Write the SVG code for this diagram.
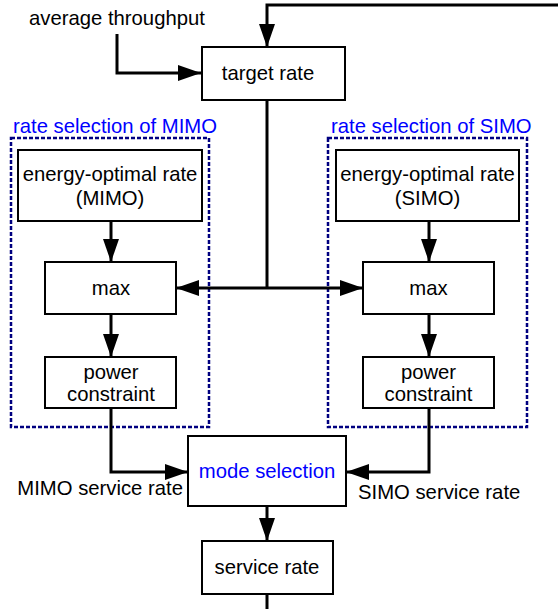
<svg xmlns="http://www.w3.org/2000/svg" width="558" height="609" viewBox="0 0 558 609">
  <style>
    .box { fill: #ffffff; stroke: #000000; stroke-width: 2; }
    .group { fill: none; stroke: #000080; stroke-width: 2.5; stroke-dasharray: 4 2; }
    .wire { fill: none; stroke: #000000; stroke-width: 3; }
    text { font-family: "Liberation Sans", Arial, sans-serif; font-size: 20.3px; fill: #000000; }
    .c { text-anchor: middle; }
    .blue { fill: #0000ff; }
  </style>
  <defs>
    <marker id="arrow" markerUnits="userSpaceOnUse" markerWidth="23" markerHeight="16" refX="23" refY="8" orient="auto" viewBox="0 0 23 16">
      <path d="M0,0 L23,8 L0,16 z" fill="#000000"/>
    </marker>
  </defs>

  <rect width="558" height="609" fill="#ffffff"/>

  <!-- dashed grouping frames -->
  <g id="group-mimo">
    <rect class="group" x="11" y="138" width="198" height="289"/>
    <text class="blue" x="13" y="133">rate selection of MIMO</text>
  </g>
  <g id="group-simo">
    <rect class="group" x="328" y="138" width="199" height="289"/>
    <text class="blue" x="331" y="133">rate selection of SIMO</text>
  </g>

  <!-- connectors -->
  <g id="connectors">
    <path class="wire" d="M558,5 H267 V47" marker-end="url(#arrow)"/>
    <path class="wire" d="M117,34 V73 H201" marker-end="url(#arrow)"/>
    <path class="wire" d="M267,100 V288"/>
    <path class="wire" d="M267,288 H176" marker-end="url(#arrow)"/>
    <path class="wire" d="M267,288 H363" marker-end="url(#arrow)"/>
    <path class="wire" d="M111,221 V262" marker-end="url(#arrow)"/>
    <path class="wire" d="M111,314 V357" marker-end="url(#arrow)"/>
    <path class="wire" d="M111,408 V472 H188" marker-end="url(#arrow)"/>
    <path class="wire" d="M429,221 V262" marker-end="url(#arrow)"/>
    <path class="wire" d="M429,314 V357" marker-end="url(#arrow)"/>
    <path class="wire" d="M429,408 V472 H346" marker-end="url(#arrow)"/>
    <path class="wire" d="M267,506 V541" marker-end="url(#arrow)"/>
    <path class="wire" d="M267,594 V609"/>
  </g>

  <!-- labels on connectors -->
  <text x="29" y="25">average throughput</text>
  <text x="183" y="495" text-anchor="end">MIMO service rate</text>
  <text x="358" y="499">SIMO service rate</text>

  <!-- nodes -->
  <g id="target-rate">
    <rect class="box" x="202" y="47" width="143" height="53"/>
    <text class="c" x="268" y="80">target rate</text>
  </g>
  <g id="energy-mimo">
    <rect class="box" x="18" y="150" width="184" height="71"/>
    <text class="c" x="110" y="181">energy-optimal rate</text>
    <text class="c" x="110" y="205">(MIMO)</text>
  </g>
  <g id="max-mimo">
    <rect class="box" x="45" y="262" width="131" height="52"/>
    <text class="c" x="111" y="295">max</text>
  </g>
  <g id="power-mimo">
    <rect class="box" x="45" y="357" width="131" height="51"/>
    <text class="c" x="111" y="379">power</text>
    <text class="c" x="111" y="401">constraint</text>
  </g>
  <g id="energy-simo">
    <rect class="box" x="336" y="150" width="183" height="71"/>
    <text class="c" x="427.5" y="181">energy-optimal rate</text>
    <text class="c" x="427.5" y="205">(SIMO)</text>
  </g>
  <g id="max-simo">
    <rect class="box" x="363" y="262" width="131" height="52"/>
    <text class="c" x="428.5" y="295">max</text>
  </g>
  <g id="power-simo">
    <rect class="box" x="363" y="357" width="131" height="51"/>
    <text class="c" x="428.5" y="379">power</text>
    <text class="c" x="428.5" y="401">constraint</text>
  </g>
  <g id="mode-selection">
    <rect class="box" x="188" y="436" width="158" height="70"/>
    <text class="c blue" x="267" y="478">mode selection</text>
  </g>
  <g id="service-rate">
    <rect class="box" x="202" y="541" width="131" height="53"/>
    <text class="c" x="267" y="574">service rate</text>
  </g>
</svg>
